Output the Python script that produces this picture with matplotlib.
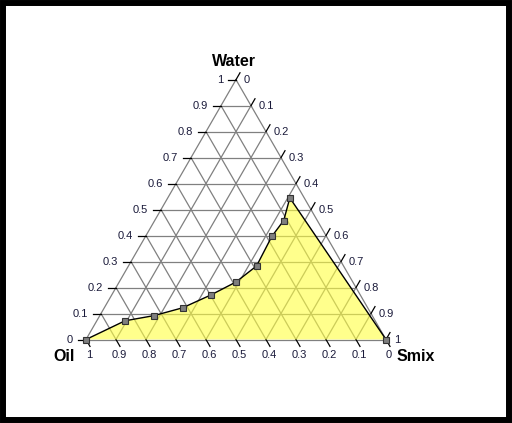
import numpy as np
import matplotlib
matplotlib.use('Agg')
import matplotlib.pyplot as plt
from matplotlib.patches import Rectangle, Polygon

plt.rcParams['font.family'] = ['Liberation Sans', 'DejaVu Sans']

# Composiciones del diagrama (fracciones)
oil = [1.0, 0.834, 0.727, 0.617, 0.499, 0.390, 0.290, 0.182, 0.112, 0.048, 0.0]
water = [0.0, 0.072, 0.092, 0.122, 0.171, 0.221, 0.283, 0.397, 0.458, 0.545, 0.0]
smix = [1 - o - w for o, w in zip(oil, water)]
niveles = [0.0, 0.1, 0.2, 0.3, 0.4, 0.5, 0.6, 0.7, 0.8, 0.9, 1.0]
etiquetas = ['0', '0.1', '0.2', '0.3', '0.4', '0.5', '0.6', '0.7', '0.8', '0.9', '1']

H = np.sqrt(3) / 2


def a_xy(w, s):
    # vertice Oil abajo-izq, Smix abajo-der, Water arriba
    w = np.asarray(w, dtype=float)
    s = np.asarray(s, dtype=float)
    return s + w / 2, w * H


fig = plt.figure(figsize=(5.12, 4.23), dpi=100)
ax = fig.add_axes([0, 0, 1, 1])
esc = 300.0
ax.set_xlim(-86 / esc, (512 - 86) / esc)
ax.set_ylim(-(423 - 339.5) / esc, 339.5 / esc)
ax.axis('off')

# marco negro
fig.patches.append(Rectangle((3 / 512, 3 / 423), 506 / 512, 417 / 423,
                             transform=fig.transFigure, fill=False,
                             edgecolor='black', linewidth=4.3))

gris = '#808080'
# rejilla
for v in niveles:
    # water constante
    x, y = a_xy([v, v], [0, 1 - v])
    ax.plot(x, y, color=gris, lw=0.9, zorder=1)
    # smix constante
    x, y = a_xy([0, 1 - v], [v, v])
    ax.plot(x, y, color=gris, lw=0.9, zorder=1)
    # oil constante
    x, y = a_xy([0, 1 - v], [1 - v, 0])
    ax.plot(x, y, color=gris, lw=0.9, zorder=1)

# region sombreada
px, py = a_xy(water, smix)
ax.add_patch(Polygon(np.column_stack([px, py]), closed=True,
                     facecolor='#ffff40', alpha=0.6, edgecolor='none', zorder=2))
ax.plot(px, py, color='black', lw=1.0, zorder=3)
ax.plot(px, py, 's', color='#7f7f7f', markeredgecolor='#333333',
        markersize=4.6, markeredgewidth=0.8, linestyle='none', zorder=4)

tl = 8 / esc
col_txt = '#1a1a3a'
for v, lab in zip(niveles, etiquetas):
    # lado izquierdo: Water
    x, y = a_xy(v, 0)
    ax.plot([x - tl, x], [y, y], color='black', lw=0.9, zorder=1)
    ax.text(x - tl - 5 / esc, y, lab, ha='right', va='center', fontsize=8, color=col_txt)
    # lado derecho: Smix
    x, y = a_xy(1 - v, v)
    x2, y2 = x + tl * 0.5, y + tl * H
    ax.plot([x, x2], [y, y2], color='black', lw=0.9, zorder=1)
    ax.text(x2 + 4 / esc, y, lab, ha='left', va='center', fontsize=8, color=col_txt)
    # abajo: Oil
    x, y = a_xy(0, 1 - v)
    x2, y2 = x + tl * 0.5, y - tl * H
    ax.plot([x, x2], [y, y2], color='black', lw=0.9, zorder=1)
    ax.text(x + 3 / esc, y - 15 / esc, lab, ha='center', va='center', fontsize=8, color=col_txt)

xw, yw = a_xy(1, 0)
ax.text(xw - 2 / esc, yw + 18 / esc, 'Water', ha='center', va='center',
        fontsize=11.5, fontweight='bold')
xo, yo = a_xy(0, 0)
ax.text(xo - 22 / esc, yo - 17 / esc, 'Oil', ha='center', va='center',
        fontsize=11.5, fontweight='bold')
xs, ys = a_xy(0, 1)
ax.text(xs + 11 / esc, ys - 17 / esc, 'Smix', ha='left', va='center',
        fontsize=11.5, fontweight='bold')

fig.savefig('out.png', dpi=100)
